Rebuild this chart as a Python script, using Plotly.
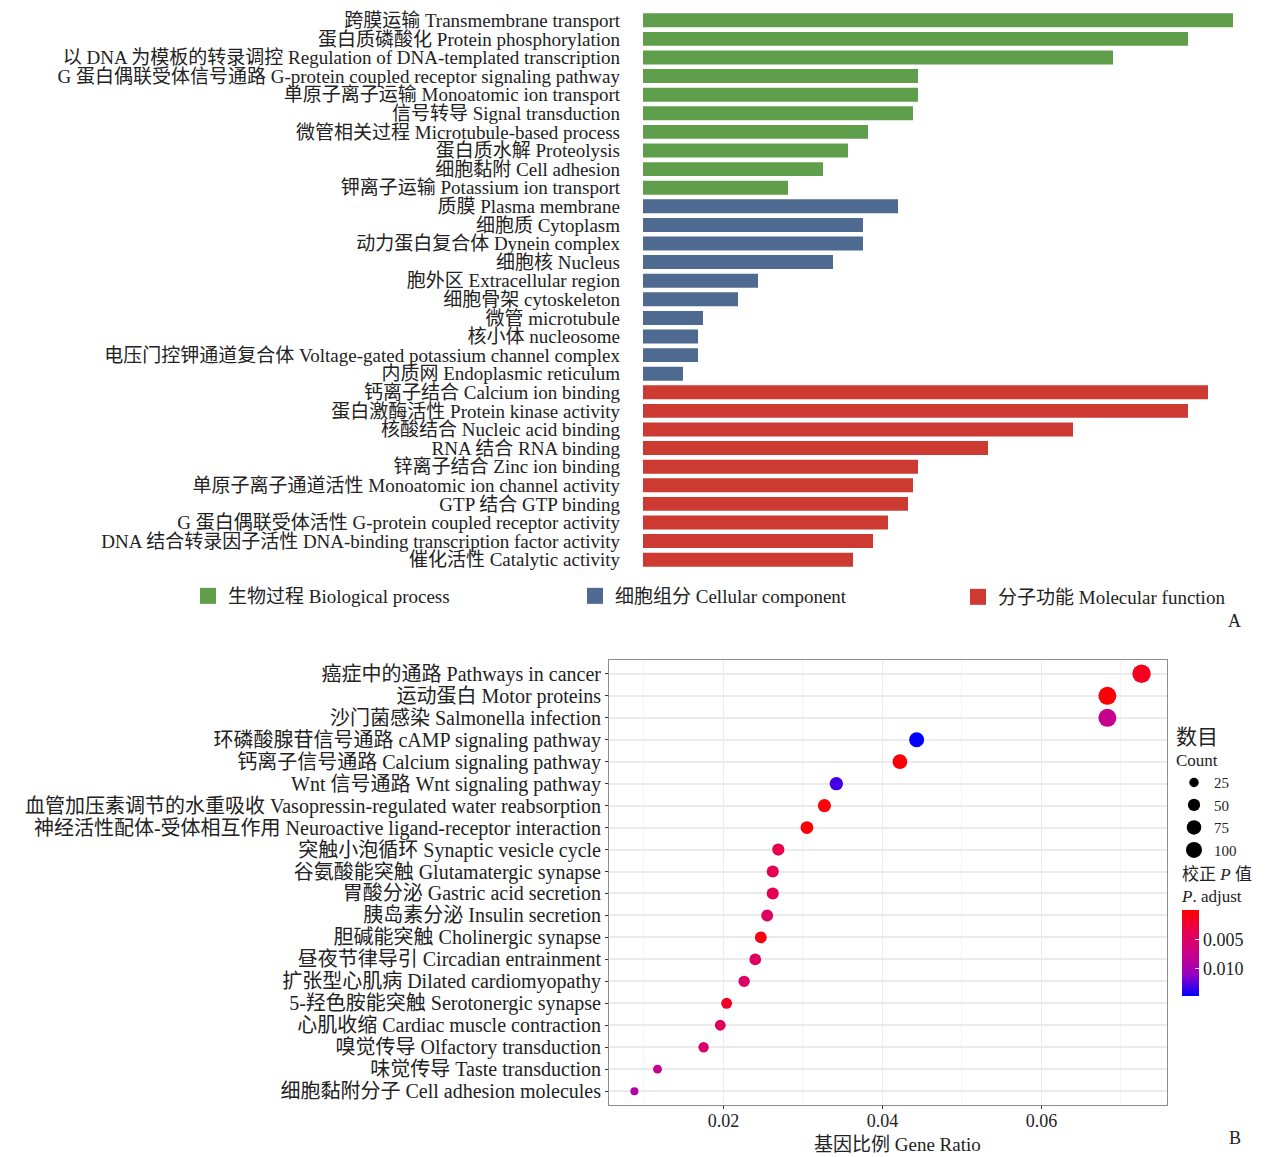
import plotly.graph_objects as go

# ---- panel A: GO enrichment (gene counts) ----
go_terms = [
    "跨膜运输 Transmembrane transport",
    "蛋白质磷酸化 Protein phosphorylation",
    "以 DNA 为模板的转录调控 Regulation of DNA-templated transcription",
    "G 蛋白偶联受体信号通路 G-protein coupled receptor signaling pathway",
    "单原子离子运输 Monoatomic ion transport",
    "信号转导 Signal transduction",
    "微管相关过程 Microtubule-based process",
    "蛋白质水解 Proteolysis",
    "细胞黏附 Cell adhesion",
    "钾离子运输 Potassium ion transport",
    "质膜 Plasma membrane",
    "细胞质 Cytoplasm",
    "动力蛋白复合体 Dynein complex",
    "细胞核 Nucleus",
    "胞外区 Extracellular region",
    "细胞骨架 cytoskeleton",
    "微管 microtubule",
    "核小体 nucleosome",
    "电压门控钾通道复合体 Voltage-gated potassium channel complex",
    "内质网 Endoplasmic reticulum",
    "钙离子结合 Calcium ion binding",
    "蛋白激酶活性 Protein kinase activity",
    "核酸结合 Nucleic acid binding",
    "RNA 结合 RNA binding",
    "锌离子结合 Zinc ion binding",
    "单原子离子通道活性 Monoatomic ion channel activity",
    "GTP 结合 GTP binding",
    "G 蛋白偶联受体活性 G-protein coupled receptor activity",
    "DNA 结合转录因子活性 DNA-binding transcription factor activity",
    "催化活性 Catalytic activity",
]
go_counts = [118, 109, 94, 55, 55, 54, 45, 41, 36, 29,
             51, 44, 44, 38, 23, 19, 12, 11, 11, 8,
             113, 109, 86, 69, 55, 54, 53, 49, 46, 42]
go_groups = ["BP"] * 10 + ["CC"] * 10 + ["MF"] * 10
group_names = {
    "BP": "生物过程 Biological process",
    "CC": "细胞组分 Cellular component",
    "MF": "分子功能 Molecular function",
}
group_colors = {"BP": "#5f9e4b", "CC": "#4f6a91", "MF": "#cc3a31"}

# ---- panel B: KEGG dot plot ----
kegg_terms = [
    "癌症中的通路 Pathways in cancer",
    "运动蛋白 Motor proteins",
    "沙门菌感染 Salmonella infection",
    "环磷酸腺苷信号通路 cAMP signaling pathway",
    "钙离子信号通路 Calcium signaling pathway",
    "Wnt 信号通路 Wnt signaling pathway",
    "血管加压素调节的水重吸收 Vasopressin-regulated water reabsorption",
    "神经活性配体-受体相互作用 Neuroactive ligand-receptor interaction",
    "突触小泡循环 Synaptic vesicle cycle",
    "谷氨酸能突触 Glutamatergic synapse",
    "胃酸分泌 Gastric acid secretion",
    "胰岛素分泌 Insulin secretion",
    "胆碱能突触 Cholinergic synapse",
    "昼夜节律导引 Circadian entrainment",
    "扩张型心肌病 Dilated cardiomyopathy",
    "5-羟色胺能突触 Serotonergic synapse",
    "心肌收缩 Cardiac muscle contraction",
    "嗅觉传导 Olfactory transduction",
    "味觉传导 Taste transduction",
    "细胞黏附分子 Cell adhesion molecules",
]
gene_ratio = [0.0726, 0.0683, 0.0683, 0.0443, 0.0422, 0.0342, 0.0327, 0.0305,
              0.0269, 0.0262, 0.0262, 0.0255, 0.0247, 0.0240, 0.0226, 0.0204,
              0.0196, 0.0175, 0.0117, 0.0088]
kegg_counts = [132, 124, 124, 81, 77, 62, 59, 55, 49, 48, 48, 46, 45, 44,
               41, 37, 36, 32, 21, 16]
p_adjust = [0.0015, 0.0003, 0.0075, 0.0146, 0.0004, 0.0130, 0.0005, 0.0003,
            0.0035, 0.0038, 0.0038, 0.0050, 0.0008, 0.0048, 0.0050, 0.0018,
            0.0045, 0.0055, 0.0075, 0.0092]
count_breaks = [25, 50, 75, 100]
padj_ticks = [0.005, 0.010]

W, H = 1268, 1157
FONT = "Liberation Serif, Noto Sans CJK SC, serif"
TXT = "#222222"


def px_x(p):
    return p / W


def px_y(p):
    return 1 - p / H


def dot_size(c):
    # area-like scale for the count legend
    return 2.4 + 1.4 * c ** 0.5


# red -> blue through Lab-like magenta (as ggplot gradient)
pscale = [[0.0, "#0000ff"], [0.25, "#9900c2"], [0.5, "#c90088"],
          [0.75, "#e7004f"], [1.0, "#ff0000"]]
p_top = 0.0146

fig = go.Figure()

legend_ids = {"BP": "legend", "CC": "legend3", "MF": "legend4"}
legend_x = {"BP": 188, "CC": 575, "MF": 958}

for g in ["BP", "CC", "MF"]:
    idx = [i for i, v in enumerate(go_groups) if v == g]
    fig.add_trace(go.Bar(
        x=[go_counts[i] for i in idx],
        y=[go_terms[i] for i in idx],
        orientation="h",
        marker=dict(color=group_colors[g], line=dict(width=0)),
        showlegend=False,
        xaxis="x", yaxis="y",
    ))
    # legend key (bigger square than the default bar key)
    fig.add_trace(go.Scatter(
        x=[None], y=[None], mode="markers", name=group_names[g],
        marker=dict(symbol="square", size=19, color=group_colors[g]),
        legend=legend_ids[g], xaxis="x", yaxis="y",
    ))

fig.add_trace(go.Scatter(
    x=gene_ratio, y=kegg_terms, mode="markers",
    marker=dict(
        size=[dot_size(c) for c in kegg_counts],
        opacity=1,
        color=[-p for p in p_adjust],
        colorscale=pscale, cmin=-p_top, cmax=0,
        line=dict(width=0),
        colorbar=dict(
            title=dict(text="校正 <i>P</i> 值<br><i>P</i>. adjust", side="top",
                       font=dict(size=17, color=TXT)),
            xref="container", yref="container",
            x=px_x(1182), xanchor="left", xpad=0,
            y=px_y(864), yanchor="top", ypad=0,
            len=132, lenmode="pixels", thickness=17,
            tickvals=[-t for t in padj_ticks],
            ticktext=["%.3f" % t for t in padj_ticks],
            ticks="inside", ticklen=4, tickcolor="white",
            tickfont=dict(size=18, color=TXT),
            outlinewidth=0,
        ),
    ),
    showlegend=False, xaxis="x2", yaxis="y2",
))

for c in count_breaks:
    fig.add_trace(go.Scatter(
        x=[None], y=[None], mode="markers", name=str(c),
        marker=dict(size=dot_size(c), color="black"),
        legend="legend2", xaxis="x2", yaxis="y2",
    ))

legend_common = dict(orientation="h", xref="container", yref="container",
                     xanchor="left", yanchor="middle", itemsizing="trace",
                     font=dict(size=19, color=TXT), bgcolor="rgba(0,0,0,0)")

fig.update_layout(
    width=W, height=H,
    margin=dict(l=0, r=0, t=0, b=0, autoexpand=False),
    paper_bgcolor="white", plot_bgcolor="white",
    font=dict(family=FONT, size=19, color=TXT),
    bargap=0.25,
    xaxis=dict(domain=[px_x(643), px_x(1243)], range=[0, 120],
               visible=False, fixedrange=True),
    yaxis=dict(domain=[px_y(569), px_y(11)], categoryorder="array",
               categoryarray=go_terms, autorange="reversed",
               tickmode="array", tickvals=go_terms, ticktext=go_terms,
               showgrid=False, showline=False, ticks="",
               ticklabelstandoff=22, automargin=False,
               tickfont=dict(size=19, color=TXT)),
    xaxis2=dict(domain=[px_x(609), px_x(1167)], range=[0.0056, 0.0758],
                tick0=0, dtick=0.02, tickformat=".2f",
                showgrid=True, gridcolor="#ebebeb", gridwidth=1,
                minor=dict(dtick=0.01, showgrid=True, gridcolor="#f4f4f4",
                           gridwidth=1),
                ticks="outside", ticklen=3, tickcolor="#333333",
                ticklabelstandoff=-4,
                showline=True, mirror=True, linecolor="#8c8c8c", linewidth=1,
                zeroline=False, automargin=False,
                tickfont=dict(size=18, color=TXT),
                anchor="y2"),
    yaxis2=dict(domain=[px_y(1105), px_y(660)], categoryorder="array",
                categoryarray=kegg_terms,
                tickmode="array", tickvals=kegg_terms, ticktext=kegg_terms,
                range=[len(kegg_terms) - 1 + 0.63, -0.63],
                showgrid=True, gridcolor="#ebebeb", gridwidth=1.5,
                ticks="outside", ticklen=3, tickcolor="#333333",
                showline=True, mirror=True, linecolor="#8c8c8c", linewidth=1,
                automargin=False, tickfont=dict(size=20, color=TXT),
                anchor="x2"),
    legend=dict(x=px_x(legend_x["BP"]), y=px_y(596), **legend_common),
    legend3=dict(x=px_x(legend_x["CC"]), y=px_y(596), **legend_common),
    legend4=dict(x=px_x(legend_x["MF"]), y=px_y(597), **legend_common),
    legend2=dict(xref="container", yref="container",
                 x=px_x(1174), y=px_y(722), xanchor="left", yanchor="top",
                 itemsizing="trace", itemwidth=30, tracegroupgap=0,
                 title=dict(text="<span style='font-size:21px'>数目</span><br>Count",
                            font=dict(size=17, color=TXT)),
                 font=dict(size=15, color=TXT), bgcolor="rgba(0,0,0,0)"),
    annotations=[
        dict(text="基因比例 Gene Ratio", x=px_x(897), y=px_y(1144),
             xref="paper", yref="paper", xanchor="center", yanchor="middle",
             showarrow=False, font=dict(size=19, color=TXT)),
        dict(text="A", x=px_x(1243), y=px_y(621), xref="paper", yref="paper",
             xanchor="right", yanchor="middle", showarrow=False,
             font=dict(size=18, color=TXT)),
        dict(text="B", x=px_x(1243), y=px_y(1138), xref="paper", yref="paper",
             xanchor="right", yanchor="middle", showarrow=False,
             font=dict(size=18, color=TXT)),
    ],
)

fig.write_html("out.html", config={"displayModeBar": False},
               post_script="document.body.style.margin='0';")
